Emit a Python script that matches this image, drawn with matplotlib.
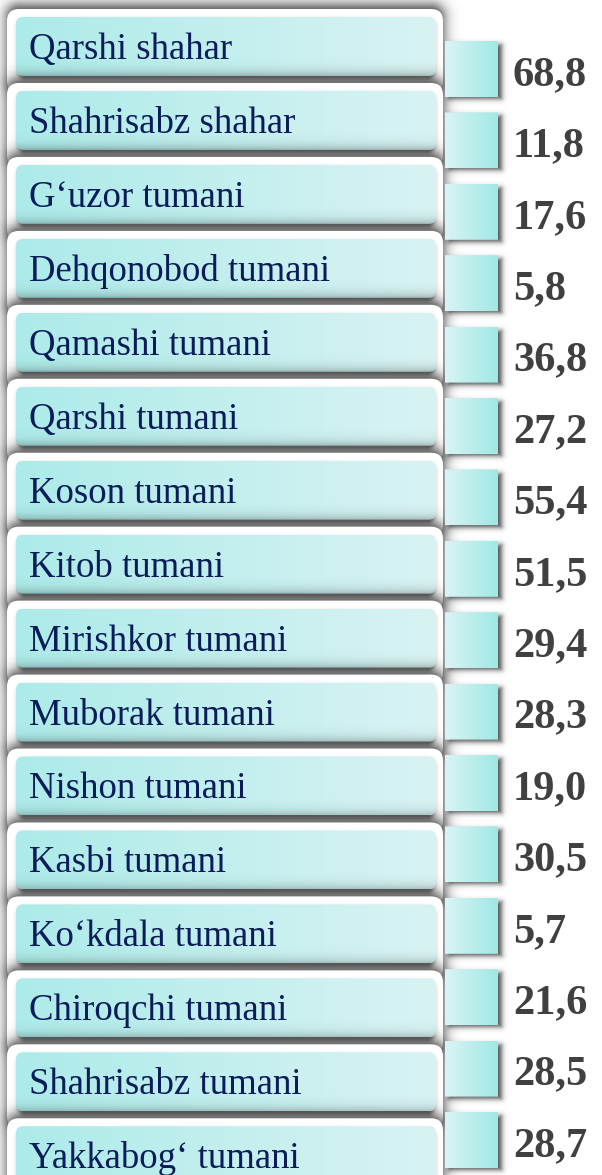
import numpy as np
import matplotlib.pyplot as plt
from matplotlib.patches import FancyBboxPatch

plt.rcParams['font.family'] = ['Liberation Serif', 'DejaVu Serif']

# data
labels = ['Qarshi shahar', 'Shahrisabz shahar', 'G‘uzor tumani', 'Dehqonobod tumani',
          'Qamashi tumani', 'Qarshi tumani', 'Koson tumani', 'Kitob tumani',
          'Mirishkor tumani', 'Muborak tumani', 'Nishon tumani', 'Kasbi tumani',
          'Ko‘kdala tumani', 'Chiroqchi tumani', 'Shahrisabz tumani', 'Yakkabog‘ tumani']
values = [68.8, 11.8, 17.6, 5.8, 36.8, 27.2, 55.4, 51.5,
          29.4, 28.3, 19.0, 30.5, 5.7, 21.6, 28.5, 28.7]

# layout (pixels)
W, H = 602, 1175
row_pitch, box_top0, box_h = 73.95, 17, 59
box_x0, box_x1 = 16, 436
frame_x0, frame_x1 = 7, 443
sq_pitch, sq_top0, sq_h = 71.4, 41, 56
sq_x0, sq_x1 = 445, 498

box_left_col = np.array([172, 235, 233]) / 255
box_right_col = np.array([217, 243, 243]) / 255
sq_left_col = np.array([218, 244, 244]) / 255
sq_right_col = np.array([160, 232, 229]) / 255

fig = plt.figure(figsize=(W / 100, H / 100), dpi=100)
ax = fig.add_axes([0, 0, 1, 1])


def soft_shadow(x, y, w, h, r, dx, dy, amax, sigma, z):
    # blurred rounded-rect shadow from a signed distance field
    pad = 3 * sigma + 2
    xs = np.arange(x + dx - pad, x + dx + w + pad, 0.5)
    ys = np.arange(y + dy - pad, y + dy + h + pad, 0.5)
    X, Y = np.meshgrid(xs, ys)
    cx, cy = x + dx + w / 2, y + dy + h / 2
    qx = np.abs(X - cx) - (w / 2 - r)
    qy = np.abs(Y - cy) - (h / 2 - r)
    d = np.hypot(np.maximum(qx, 0), np.maximum(qy, 0)) + np.minimum(np.maximum(qx, qy), 0) - r
    a = amax / (1 + np.exp(d / (0.45 * sigma)))
    img = np.zeros(X.shape + (4,))
    img[..., 3] = a
    ax.imshow(img, extent=(xs[0], xs[-1], ys[-1], ys[0]), aspect='auto',
              interpolation='bilinear', zorder=z)


def grad_box(x, y, w, h, r, c0, c1, z):
    p = FancyBboxPatch((x, y), w, h, boxstyle=f"round,pad=0,rounding_size={r}",
                       fc='none', ec='none', zorder=z)
    ax.add_patch(p)
    t = np.linspace(0, 1, 256)[None, :, None]
    img = np.repeat(c0 + (c1 - c0) * t, 2, axis=0)
    im = ax.imshow(img, extent=(x, x + w, y + h, y), aspect='auto',
                   interpolation='bilinear', zorder=z)
    im.set_clip_path(p)


for i, lab in enumerate(labels):
    top = box_top0 + i * row_pitch
    z = 2 + i * 0.01
    # white frame with soft shadow
    fy, fh = top - 8, 84
    soft_shadow(frame_x0, fy, frame_x1 - frame_x0, fh, 12, 0, -3, 0.8, 9, z)
    ax.add_patch(FancyBboxPatch((frame_x0, fy), frame_x1 - frame_x0, fh,
                                boxstyle="round,pad=0,rounding_size=12",
                                fc='white', ec='none', zorder=z + 0.001))
    # inner gradient box
    soft_shadow(box_x0 + 2, top, box_x1 - box_x0 - 4, box_h, 7, 0, 4, 0.6, 3, z + 0.002)
    grad_box(box_x0, top, box_x1 - box_x0, box_h, 7, box_left_col, box_right_col, z + 0.003)
    ax.text(29, top + 42, lab, fontsize=26.5, color='#0b1c5a', va='baseline',
            ha='left', zorder=z + 0.004)

for i, v in enumerate(values):
    top = sq_top0 + i * sq_pitch
    z = 3 + i * 0.01
    soft_shadow(sq_x0, top + 2, sq_x1 - sq_x0, sq_h - 2, 1, 3, 2, 0.7, 3.5, z)
    grad_box(sq_x0, top, sq_x1 - sq_x0, sq_h, 0.01, sq_left_col, sq_right_col, z + 0.001)
    ax.text(513, top + 44, f"{v:.1f}".replace('.', ','), fontsize=30.5,
            fontweight='bold', color='#404040', va='baseline', ha='left',
            zorder=z + 0.002)

ax.set_xlim(0, W)
ax.set_ylim(H, 0)
ax.axis('off')
fig.savefig('out.png', dpi=100)
